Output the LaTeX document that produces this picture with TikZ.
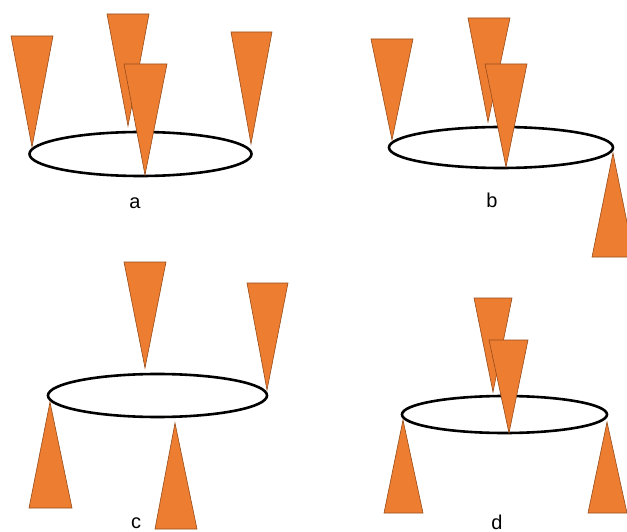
\documentclass[tikz,border=0pt]{standalone}
\usepackage{fontspec}
\setmainfont{Liberation Sans}
\definecolor{cone}{RGB}{237,125,49}
\definecolor{coneedge}{RGB}{150,75,25}
\begin{document}
\begin{tikzpicture}[x=1pt,y=-1pt,
  conefill/.style={fill=cone,draw=coneedge,line width=0.6pt,line join=miter},
  ring/.style={draw=black,line width=2.6pt},
  lbl/.style={font=\fontsize{20}{20}\selectfont,inner sep=0pt}]
\useasboundingbox (0,0) rectangle (627,532);
\begin{scope}
\clip (0,0) rectangle (627,532);
% panel a
\draw[ring] (140.5,154) ellipse [x radius=111, y radius=22];
\draw[conefill] (11,36) -- (53,36) -- (32,147) -- cycle;
\draw[conefill] (107,14) -- (149,14) -- (128,126) -- cycle;
\draw[conefill] (124,64) -- (167,64) -- (145,175) -- cycle;
\draw[conefill] (231,32) -- (272,32) -- (251,144) -- cycle;
\node[lbl] (la) at (135,203) {a};
% panel b
\draw[ring] (501,147.5) ellipse [x radius=112, y radius=20.5];
\draw[conefill] (371,39) -- (413,39) -- (392,140) -- cycle;
\draw[conefill] (468,18) -- (510,18) -- (488,122) -- cycle;
\draw[conefill] (485,64) -- (527,64) -- (506,167) -- cycle;
\draw[conefill] (592,257) -- (634,257) -- (613,153) -- cycle;
\node[lbl] (lb) at (492,200) {b};
% panel c
\draw[ring] (157.5,395.5) ellipse [x radius=109.5, y radius=21.5];
\draw[conefill] (124,262) -- (166,262) -- (145,368) -- cycle;
\draw[conefill] (247,283) -- (288,283) -- (267,390) -- cycle;
\draw[conefill] (29,508) -- (72,508) -- (50,402) -- cycle;
\draw[conefill] (155,529) -- (197,529) -- (175,423) -- cycle;
\node[lbl,anchor=base] (lc) at (136,528) {c};
% panel d
\draw[ring] (504.5,414.5) ellipse [x radius=102.5, y radius=18.5];
\draw[conefill] (474,298) -- (512,298) -- (493,392) -- cycle;
\draw[conefill] (489,340) -- (528,340) -- (509,433) -- cycle;
\draw[conefill] (384,513) -- (423,513) -- (403,420) -- cycle;
\draw[conefill] (588,513) -- (627,513) -- (607,422) -- cycle;
\node[lbl] (ld) at (497,522) {d};
\end{scope}
\end{tikzpicture}
\end{document}
